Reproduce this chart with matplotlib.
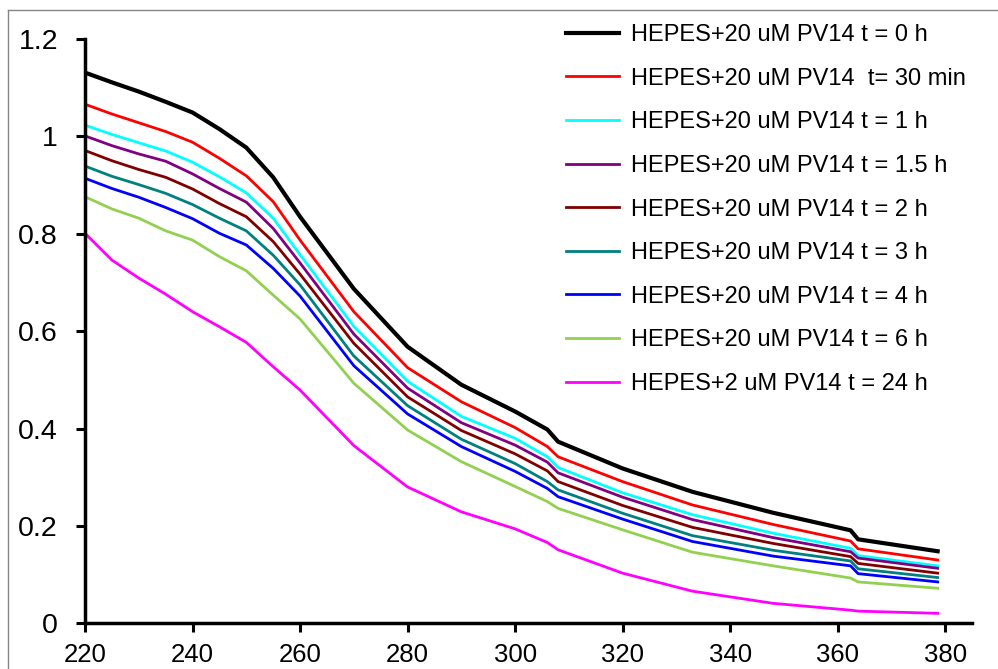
import matplotlib
matplotlib.use('Agg')
import matplotlib.pyplot as plt
from matplotlib.lines import Line2D

plt.rcParams['font.family'] = ['Liberation Sans', 'DejaVu Sans']

# wavelength (nm)
wavelength = [220, 225, 230, 235, 240, 245, 250, 255, 260, 270, 280, 290, 300,
              306, 308, 320, 333, 348, 362.4, 363.8, 378.6]

t_0h = [1.131, 1.111, 1.092, 1.071, 1.049, 1.015, 0.977, 0.916, 0.835, 0.687, 0.568,
        0.490, 0.435, 0.398, 0.373, 0.318, 0.270, 0.227, 0.191, 0.1725, 0.148]
t_30min = [1.066, 1.046, 1.028, 1.010, 0.988, 0.955, 0.919, 0.866, 0.787, 0.640, 0.525,
           0.455, 0.402, 0.363, 0.342, 0.291, 0.243, 0.203, 0.169, 0.153, 0.130]
t_1h = [1.023, 1.004, 0.987, 0.970, 0.947, 0.917, 0.884, 0.832, 0.757, 0.610, 0.497,
        0.425, 0.380, 0.342, 0.320, 0.268, 0.223, 0.185, 0.154, 0.139, 0.118]
t_1_5h = [1.001, 0.981, 0.964, 0.949, 0.923, 0.893, 0.865, 0.811, 0.740, 0.594, 0.483,
          0.412, 0.366, 0.331, 0.309, 0.259, 0.213, 0.176, 0.147, 0.134, 0.113]
t_2h = [0.971, 0.950, 0.932, 0.916, 0.892, 0.862, 0.835, 0.784, 0.717, 0.575, 0.465,
        0.396, 0.348, 0.313, 0.291, 0.242, 0.197, 0.164, 0.137, 0.123, 0.103]
t_3h = [0.939, 0.918, 0.901, 0.883, 0.860, 0.832, 0.806, 0.756, 0.695, 0.549, 0.447,
        0.378, 0.328, 0.291, 0.274, 0.226, 0.180, 0.150, 0.128, 0.112, 0.094]
t_4h = [0.914, 0.893, 0.875, 0.854, 0.831, 0.801, 0.777, 0.729, 0.672, 0.529, 0.430,
        0.363, 0.312, 0.277, 0.260, 0.214, 0.168, 0.138, 0.118, 0.102, 0.085]
t_6h = [0.876, 0.851, 0.832, 0.806, 0.787, 0.753, 0.724, 0.674, 0.625, 0.493, 0.397,
        0.332, 0.281, 0.250, 0.236, 0.192, 0.146, 0.118, 0.093, 0.085, 0.072]
t_24h = [0.801, 0.746, 0.709, 0.676, 0.640, 0.609, 0.577, 0.527, 0.479, 0.365, 0.280,
         0.229, 0.194, 0.166, 0.151, 0.103, 0.066, 0.041, 0.027, 0.025, 0.0205]

labels = ['HEPES+20 uM PV14 t = 0 h',
          'HEPES+20 uM PV14  t= 30 min',
          'HEPES+20 uM PV14 t = 1 h',
          'HEPES+20 uM PV14 t = 1.5 h',
          'HEPES+20 uM PV14 t = 2 h',
          'HEPES+20 uM PV14 t = 3 h',
          'HEPES+20 uM PV14 t = 4 h',
          'HEPES+20 uM PV14 t = 6 h',
          'HEPES+2 uM PV14 t = 24 h']
colors = ['#000000', '#FF0000', '#00FFFF', '#800080', '#800000',
          '#008080', '#0000FF', '#92D050', '#FF00FF']
series = [t_0h, t_30min, t_1h, t_1_5h, t_2h, t_3h, t_4h, t_6h, t_24h]

fig = plt.figure(figsize=(9.98, 6.69), dpi=100)
ax = fig.add_axes([0.0852, 0.0683, 0.8888, 0.8734])

for i, ys in enumerate(series):
    lw = 3 if i == 0 else 2
    ax.plot(wavelength, ys, color=colors[i], linewidth=lw, label=labels[i])

ax.set_xlim(220, 385)
ax.set_ylim(0, 1.2)
ax.set_xticks(range(220, 381, 20))
ax.set_yticks([0, 0.2, 0.4, 0.6, 0.8, 1, 1.2])
ax.set_yticklabels(['0', '0.2', '0.4', '0.6', '0.8', '1', '1.2'])

# axis look
for side in ['top', 'right']:
    ax.spines[side].set_visible(False)
for side in ['left', 'bottom']:
    ax.spines[side].set_linewidth(2.5)
ax.tick_params(axis='both', direction='out', length=6.5, width=2.2)
ax.tick_params(axis='x', labelsize=18.5, pad=8)
ax.tick_params(axis='y', labelsize=20.5, pad=13)

leg = ax.legend(loc='upper left', bbox_to_anchor=(0.567, 0.964),
                bbox_transform=fig.transFigure, frameon=False, fontsize=17,
                handlelength=2.25, handletextpad=0.5, labelspacing=0.915,
                borderpad=0, borderaxespad=0)

# grey frame round the chart area (left and top edges visible)
fig.add_artist(Line2D([8 / 998, 8 / 998], [0, 1 - 10 / 669],
                      transform=fig.transFigure, color='#868686', linewidth=1))
fig.add_artist(Line2D([8 / 998, 1], [1 - 10 / 669, 1 - 10 / 669],
                      transform=fig.transFigure, color='#868686', linewidth=1))

fig.savefig('out.png', dpi=100)
